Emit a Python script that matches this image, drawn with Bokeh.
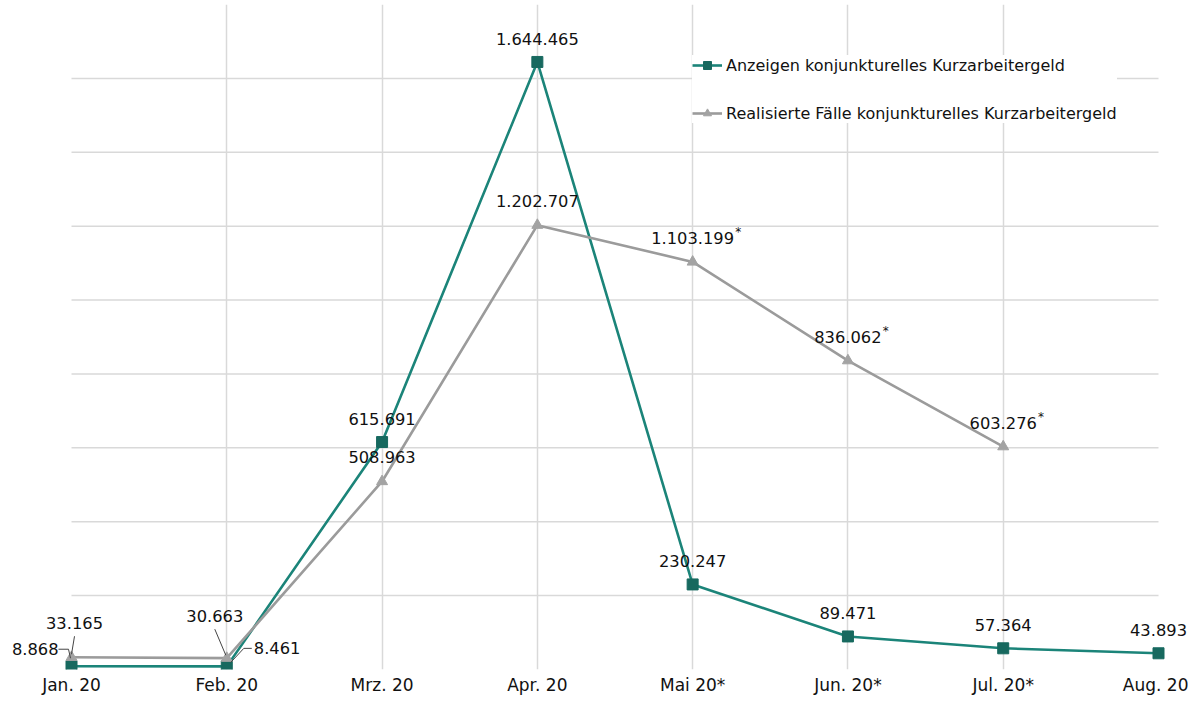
from bokeh.plotting import figure
from bokeh.models import (ColumnDataSource, LabelSet, FixedTicker, Legend, LegendItem, Range1d)
from bokeh.core.properties import value
from bokeh.embed import file_html
from bokeh.resources import INLINE

months = ["Jan. 20", "Feb. 20", "Mrz. 20", "Apr. 20", "Mai 20*", "Jun. 20*", "Jul. 20*", "Aug. 20"]
anzeigen = [8868, 8461, 615691, 1644465, 230247, 89471, 57364, 43893]
realisiert = [33165, 30663, 508963, 1202707, 1103199, 836062, 603276]
anz_labels = ["8.868", "8.461", "615.691", "1.644.465", "230.247", "89.471", "57.364", "43.893"]
real_labels = ["33.165", "30.663", "508.963", "1.202.707", "1.103.199", "836.062", "603.276"]
real_star = [False, False, False, False, True, True, True]
grid_values = [200000, 400000, 600000, 800000, 1000000, 1200000, 1400000, 1600000]
Y_MAX = 1800000

TEAL = "#1b8479"
TEAL_M = "#17695f"
GRAY = "#9b9b9b"
GRAY_M = "#a3a3a3"
GRID = "#d9d9d9"
FONT = "DejaVu Sans"
TXT = "#111111"
LBL = "16.3px"

W, H = 1188, 697
LEFT_PX, RIGHT_PX = 71, 1158          # pixel position of first / last category
UNIT = (RIGHT_PX - LEFT_PX) / 7.0
n = len(months)
x_start = -LEFT_PX / UNIT
x_end = (n - 1) + (W - RIGHT_PX) / UNIT

p = figure(width=W, height=H, output_backend="svg", toolbar_location=None,
           x_range=Range1d(x_start, x_end), y_range=Range1d(0, Y_MAX),
           min_border_left=0, min_border_right=0, min_border_top=4, min_border_bottom=22)
p.outline_line_color = None
p.background_fill_color = "white"
p.yaxis.visible = False
p.xaxis.ticker = FixedTicker(ticks=list(range(n)))
p.xaxis.major_label_overrides = {i: m for i, m in enumerate(months)}
p.xaxis.axis_line_color = None
p.xaxis.major_tick_line_color = None
p.xaxis.minor_tick_line_color = None
p.xaxis.major_tick_out = 0
p.xaxis.major_tick_in = 0
p.xaxis.minor_tick_out = 0
p.xaxis.minor_tick_in = 0
p.xaxis.major_label_standoff = 5
p.xaxis.major_label_text_font = FONT
p.xaxis.major_label_text_font_size = "17px"
p.xaxis.major_label_text_color = TXT
p.xgrid.ticker = FixedTicker(ticks=list(range(1, n - 1)))
p.xgrid.grid_line_color = GRID
p.xgrid.grid_line_width = 1.5
p.ygrid.visible = False

# horizontal gridlines spanning only the category extent
p.segment(x0=[0] * len(grid_values), x1=[n - 1] * len(grid_values), y0=grid_values, y1=grid_values,
          line_color=GRID, line_width=1.5)

xa = list(range(len(anzeigen)))
xr = list(range(len(realisiert)))
src_a = ColumnDataSource(dict(x=xa, y=anzeigen))
src_r = ColumnDataSource(dict(x=xr, y=realisiert))

la = p.line("x", "y", source=src_a, line_color=TEAL, line_width=2.6)
sa = p.scatter("x", "y", source=src_a, marker="square", size=11, fill_color=TEAL_M, line_color=TEAL_M)
lr = p.line("x", "y", source=src_r, line_color=GRAY, line_width=2.6)
sr = p.scatter("x", "y", source=src_r, marker="triangle", size=11, fill_color=GRAY_M, line_color=GRAY_M)

PX_X = 1.0 / UNIT
PX_Y = Y_MAX / (H - 4 - 28.0)


def labels(xs, ys, ts, align="center", xo=0, yo=24, size=LBL):
    src = ColumnDataSource(dict(x=xs, y=ys, t=ts))
    return LabelSet(x="x", y="y", text="t", source=src, text_font=value(FONT), text_font_size=size,
                    text_color=TXT, text_baseline="middle", text_align=align, x_offset=xo, y_offset=yo)


p.add_layout(labels(xa[2:], anzeigen[2:], anz_labels[2:], yo=23))
p.add_layout(labels(xr[2:], realisiert[2:], real_labels[2:], yo=24))


def text_w(s):
    return sum(5.2 if c == "." else 10.4 for c in s)


star_idx = [i for i in range(len(xr)) if real_star[i]]
src_s = ColumnDataSource(dict(x=[xr[i] for i in star_idx], y=[realisiert[i] for i in star_idx],
                              t=["*"] * len(star_idx),
                              xo=[text_w(real_labels[i]) / 2 + 1 for i in star_idx]))
p.add_layout(LabelSet(x="x", y="y", text="t", source=src_s, x_offset="xo", y_offset=30,
                      text_font=value(FONT), text_font_size="12px", text_color=TXT,
                      text_align="left", text_baseline="middle"))

# Jan / Feb labels with leader lines
p.add_layout(labels([xa[0]], [anzeigen[0]], [anz_labels[0]], align="right", xo=-13, yo=17))
p.add_layout(labels([xa[1]], [anzeigen[1]], [anz_labels[1]], align="left", xo=27, yo=18))
p.add_layout(labels([xr[0]], [realisiert[0]], [real_labels[0]], xo=3, yo=34))
p.add_layout(labels([xr[1]], [realisiert[1]], [real_labels[1]], xo=-12, yo=42))


def leader(x0, y0, pts):
    return [x0 + dx * PX_X for dx, dy in pts], [y0 + dy * PX_Y for dx, dy in pts]


lx, ly = [], []
for (x0, y0, pts) in [
    (xa[0], anzeigen[0], [(-13, 17), (-3, 17), (-1, 8)]),
    (xr[0], realisiert[0], [(3, 21), (0, 3)]),
    (xr[1], realisiert[1], [(-12, 29), (-1, 3)]),
    (xa[1], anzeigen[1], [(25, 18), (17, 18), (4, 4)]),
]:
    a, b = leader(x0, y0, pts)
    lx.append(a)
    ly.append(b)
p.multi_line(lx, ly, line_color="#444444", line_width=1)

legend = Legend(items=[
    LegendItem(label="Anzeigen konjunkturelles Kurzarbeitergeld", renderers=[la, sa]),
    LegendItem(label="Realisierte Fälle konjunkturelles Kurzarbeitergeld", renderers=[lr, sr]),
], location=(692, 546))
legend.background_fill_color = "white"
legend.background_fill_alpha = 1.0
legend.border_line_color = None
legend.label_text_font = FONT
legend.label_text_font_size = "16px"
legend.label_text_color = TXT
legend.glyph_width = 30
legend.glyph_height = 20
legend.label_height = 20
legend.label_standoff = 4
legend.spacing = 28
legend.padding = 9
legend.margin = 0
p.add_layout(legend)

open("out.html", "w").write(file_html(p, INLINE))
